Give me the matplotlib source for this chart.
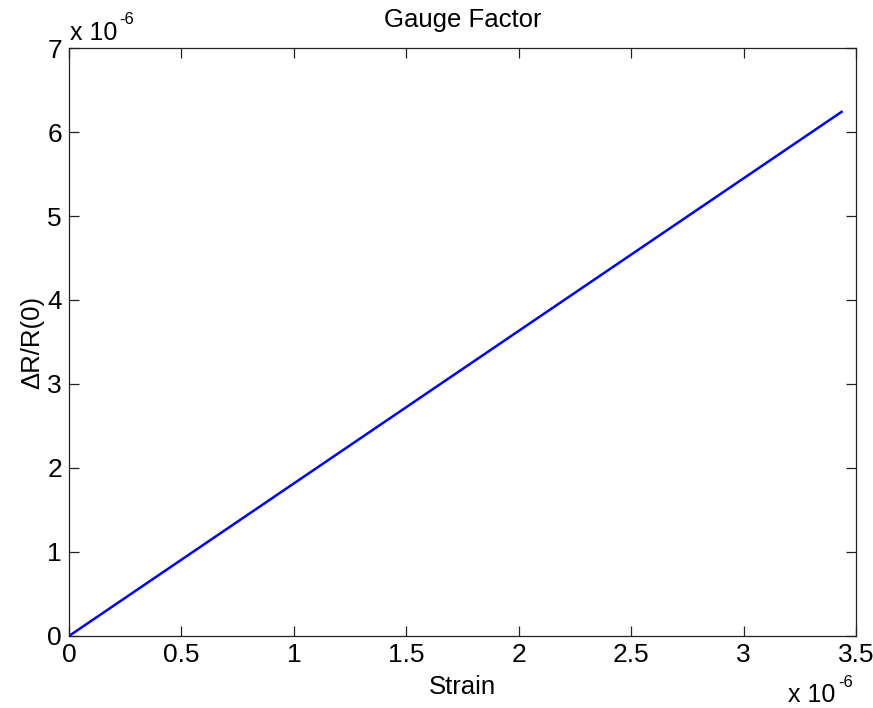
import matplotlib
matplotlib.use("Agg")
import matplotlib.pyplot as plt
from matplotlib.ticker import FuncFormatter

plt.rcParams['font.family'] = ['Liberation Sans', 'DejaVu Sans']

strain = [0.0, 3.436e-6]
dR_R = [0.0, 6.24e-6]
xticks = [0, 0.5e-6, 1e-6, 1.5e-6, 2e-6, 2.5e-6, 3e-6, 3.5e-6]
yticks = [0, 1e-6, 2e-6, 3e-6, 4e-6, 5e-6, 6e-6, 7e-6]

fig = plt.figure(figsize=(8.73, 7.08), dpi=100)
ax = fig.add_axes([0.079, 0.1017, 0.9015, 0.8305])
ax.plot(strain, dR_R, color='#0000ff', lw=1.8)
ax.set_xlim(0, 3.5e-6)
ax.set_ylim(0, 7e-6)
ax.set_xticks(xticks)
ax.set_yticks(yticks)
fmt = FuncFormatter(lambda v, p: f"{round(v*1e6, 2):g}")
ax.xaxis.set_major_formatter(fmt)
ax.yaxis.set_major_formatter(fmt)
ax.tick_params(direction='in', length=7, width=0.9, top=True, right=True,
               labelsize=19, pad=5, color='#222222')
for s in ax.spines.values():
    s.set_linewidth(0.9)
    s.set_color('#222222')

ax.set_title('Gauge Factor', fontsize=18.5, pad=15)
ax.set_xlabel('Strain', fontsize=18.5, labelpad=6)
ax.set_ylabel('ΔR/R(0)', fontsize=18.5, labelpad=2)

# offset (multiplier) labels, MATLAB style
def px(x, y):
    return x / 873, 1 - y / 708

fig.text(*px(70, 40), 'x 10', fontsize=18, ha='left', va='baseline')
fig.text(*px(119, 24), '-6', fontsize=12, ha='left', va='baseline')
fig.text(*px(788, 702), 'x 10', fontsize=18, ha='left', va='baseline')
fig.text(*px(838, 687), '-6', fontsize=12, ha='left', va='baseline')

fig.savefig('out.png', dpi=100)
